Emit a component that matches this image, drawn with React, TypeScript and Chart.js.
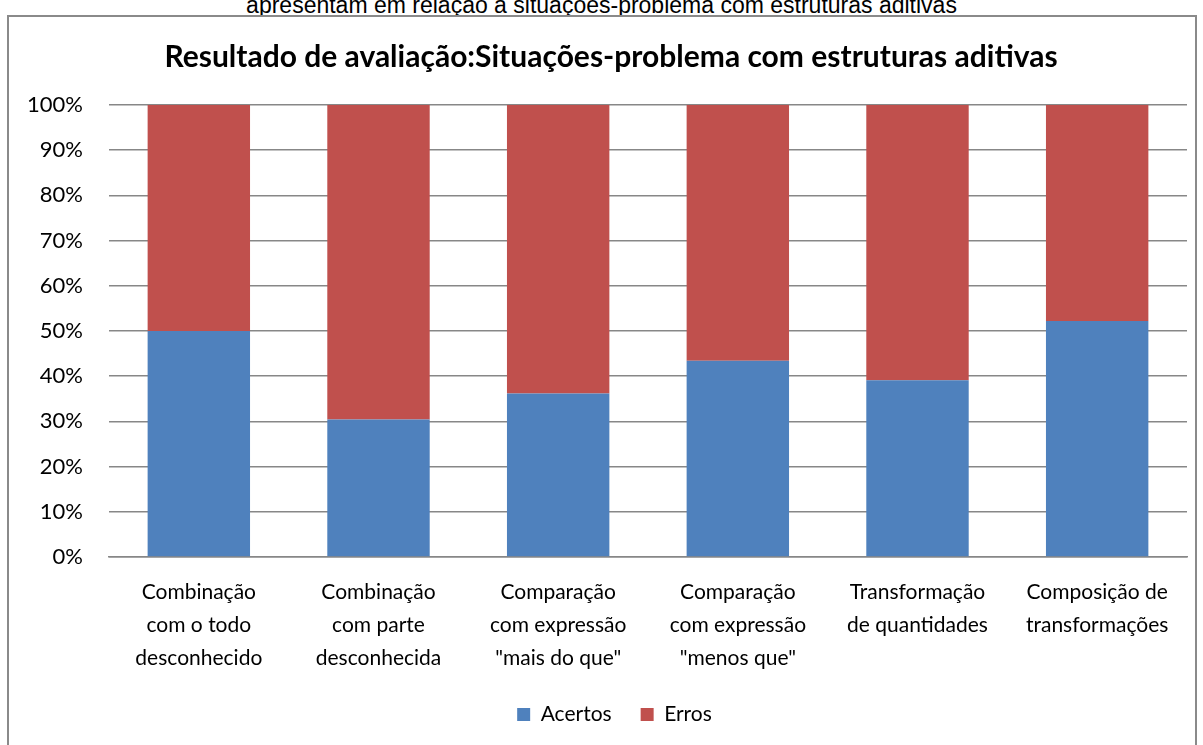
import React, { useEffect, useRef } from "react";
import { Chart, registerables } from "chart.js";

Chart.register(...registerables);

const categories: string[][] = [
  ["Combinação", "com o todo", "desconhecido"],
  ["Combinação", "com parte", "desconhecida"],
  ["Comparação", "com expressão", "\"mais do que\""],
  ["Comparação", "com expressão", "\"menos que\""],
  ["Transformação", "de quantidades"],
  ["Composição de", "transformações"],
];
const acertos = [50, 30.4, 36.2, 43.4, 39.1, 52.2];
const erros = [50, 69.6, 63.8, 56.6, 60.9, 47.8];
const seriesNames = ["Acertos", "Erros"];
const chartTitle = "Resultado de avaliação:Situações-problema com estruturas aditivas";
const topCaption = "apresentam em relação a situações-problema com estruturas aditivas";

const FONT = "Lato, 'Noto Sans', sans-serif";

const shiftPlugin = {
  id: "shiftBlocks",
  afterLayout(chart: any) {
    const l = chart.legend;
    if (l) {
      l.left += 21;
      l.right += 21;
    }
    const t = chart.titleBlock;
    if (t) {
      t.left += 17.5;
      t.right += 17.5;
    }
  },
};

export default function App() {
  const ref = useRef<HTMLCanvasElement | null>(null);
  useEffect(() => {
    if (!ref.current) return;
    const chart = new Chart(ref.current, {
      type: "bar",
      data: {
        labels: categories,
        datasets: [
          { label: seriesNames[0], data: acertos, backgroundColor: "#4F81BD", borderWidth: 0 },
          { label: seriesNames[1], data: erros, backgroundColor: "#C0504D", borderWidth: 0 },
        ],
      },
      plugins: [shiftPlugin],
      options: {
        animation: false,
        responsive: false,
        maintainAspectRatio: false,
        devicePixelRatio: 1,
        layout: { padding: { left: 0, right: 16, top: 0, bottom: 10 } },
        datasets: { bar: { barPercentage: 0.57, categoryPercentage: 1 } },
        plugins: {
          tooltip: { enabled: false },
          title: {
            display: true,
            text: chartTitle,
            color: "#000",
            font: { family: FONT, size: 30, weight: "bold", lineHeight: 1.2 },
            padding: { top: 39, bottom: 30 },
          },
          legend: {
            position: "bottom",
            labels: {
              color: "#000",
              font: { family: FONT, size: 21 },
              boxWidth: 13,
              boxHeight: 13,
              padding: 29,
            },
          },
        },
        scales: {
          x: {
            stacked: true,
            grid: { display: false },
            border: { display: true, color: "#878787", width: 1.5 },
            ticks: {
              color: "#000",
              font: { family: FONT, size: 21, lineHeight: 1.57 },
              padding: 11,
              maxRotation: 0,
              autoSkip: false,
            },
            afterFit: (s: any) => {
              s.height = 118;
            },
          },
          y: {
            stacked: true,
            min: 0,
            max: 100,
            grid: { color: "#878787", lineWidth: 1.5, drawTicks: false },
            border: { display: false },
            ticks: {
              stepSize: 10,
              color: "#000",
              font: { family: FONT, size: 22 },
              padding: 26,
              callback: (v: any) => v + "%",
            },
            afterFit: (s: any) => {
              s.width = 109;
            },
          },
        },
      },
    });
    return () => chart.destroy();
  }, []);

  return (
    <div
      style={{
        position: "fixed",
        left: 0,
        top: 0,
        width: 1203,
        height: 745,
        overflow: "hidden",
        background: "#fff",
      }}
    >
      <div
        style={{
          position: "absolute",
          left: 0,
          top: -8,
          width: 1203,
          textAlign: "center",
          fontFamily: "'Liberation Sans', Arial, sans-serif",
          fontSize: 23,
          lineHeight: "26px",
          color: "#000",
          whiteSpace: "nowrap",
        }}
      >
        {topCaption}
      </div>
      <div
        style={{
          position: "absolute",
          left: 7,
          top: 15,
          width: 1190,
          height: 740,
          border: "2px solid #8a8a8a",
          background: "#fff",
          boxSizing: "border-box",
        }}
      />
      <canvas
        ref={ref}
        width={1203}
        height={745}
        style={{ position: "absolute", left: 0, top: 0, width: 1203, height: 745 }}
      />
    </div>
  );
}
